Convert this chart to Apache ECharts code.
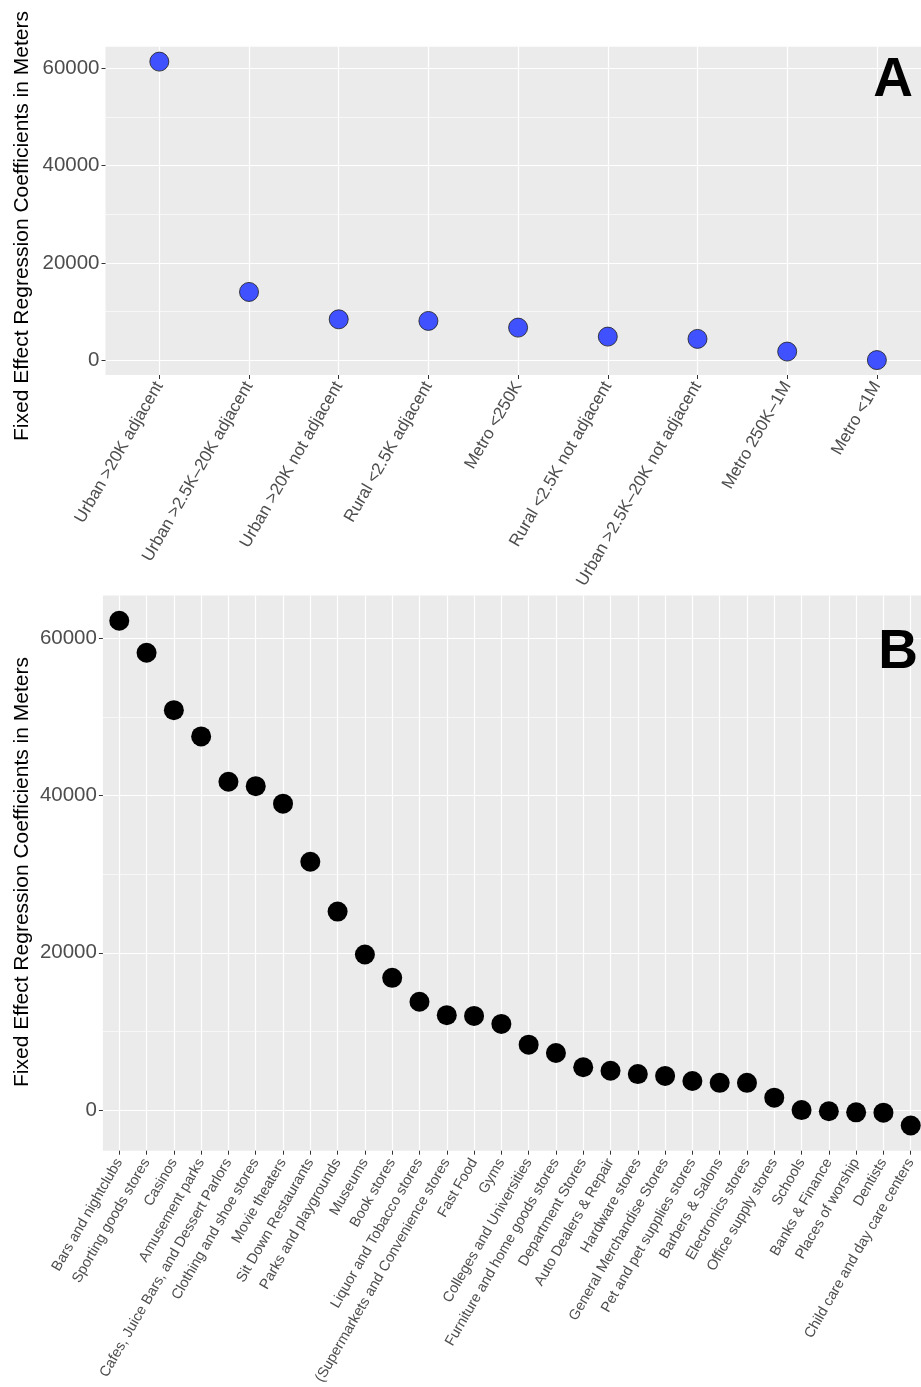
<!DOCTYPE html>
<html>
<head>
<meta charset="utf-8">
<script src="https://cdn.jsdelivr.net/npm/echarts@6/dist/echarts.min.js"></script>
<style>
html,body{margin:0;padding:0;background:#fff;}
#chart{width:921px;height:1387px;}
</style>
</head>
<body>
<div id="chart"></div>
<script>
// ---- Panel A data ----
const catsA = ["Urban >20K adjacent","Urban >2.5K\u201320K adjacent","Urban >20K not adjacent","Rural <2.5K adjacent","Metro <250K","Rural <2.5K not adjacent","Urban >2.5K\u201320K not adjacent","Metro 250K\u20131M","Metro <1M"];
const valsA = [61420, 14020, 8390, 8060, 6680, 4830, 4360, 1750, 0];

// ---- Panel B data ----
const catsB = ["Bars and nightclubs","Sporting goods stores","Casinos","Amusement parks","Cafes, Juice Bars, and Dessert Parlors","Clothing and shoe stores","Movie theaters","Sit Down Restaurants","Parks and playgrounds","Museums","Book stores","Liquor and Tobacco stores","(Supermarkets and Convenience stores","Fast Food","Gyms","Colleges and Universities","Furniture and home goods stores","Department Stores","Auto Dealers & Repair","Hardware stores","General Merchandise Stores","Pet and pet supplies stores","Barbers & Salons","Electronics stores","Office supply stores","Schools","Banks & Finance","Places of worship","Dentists","Child care and day care centers"];
const valsB = [62210, 58140, 50840, 47510, 41740, 41180, 38960, 31570, 25240, 19780, 16820, 13770, 12070, 11980, 10960, 8320, 7260, 5450, 5000, 4580, 4350, 3700, 3470, 3470, 1580, 0, -140, -280, -320, -1950];

// ---- tick labels ----
const yMajorTicks = [0, 20000, 40000, 60000];
const yMinorTicks = [10000, 30000, 50000];
const yTitle = "Fixed Effect Regression Coefficients in Meters";
const panelLabels = ["A", "B"];

function expanded(vals) {
  const mn = Math.min(...vals), mx = Math.max(...vals);
  const r = mx - mn;
  return [mn - 0.05 * r, mx + 0.05 * r];
}
const extA = expanded(valsA), extB = expanded(valsB);
const FONT = "'Liberation Sans', Arial, Helvetica, sans-serif";
const BG = '#EBEBEB';

function xAxis(gi, cats, fontSize, margin) {
  const idx = cats.map((c, i) => i);
  return {
    type: 'value', gridIndex: gi, min: -0.6, max: cats.length - 1 + 0.6, position: 'bottom',
    axisLine: {show: false, onZero: false},
    axisTick: {show: true, length: 4, lineStyle: {color: '#333', width: 1}, customValues: idx},
    axisLabel: {show: true, customValues: idx, rotate: 60, margin: margin, fontSize: fontSize, fontFamily: FONT, color: '#4D4D4D',
      formatter: v => cats[Math.round(v)] },
    splitLine: {show: true, lineStyle: {color: '#fff', width: 1.2}},
    minorSplitLine: {show: false}
  };
}
function yAxisMajor(gi, ext) {
  return {
    type: 'value', gridIndex: gi, min: ext[0], max: ext[1], position: 'left',
    axisLine: {show: false, onZero: false},
    axisTick: {show: true, length: 4, lineStyle: {color: '#333', width: 1}, customValues: yMajorTicks},
    axisLabel: {show: true, customValues: yMajorTicks, margin: 6, fontSize: 20.5, fontFamily: FONT, color: '#4D4D4D',
      formatter: v => String(v)},
    splitLine: {show: true, lineStyle: {color: '#fff', width: 1.2}}
  };
}
function yAxisMinor(gi, ext) {
  return {
    type: 'value', gridIndex: gi, min: ext[0], max: ext[1], position: 'left',
    axisLine: {show: false, onZero: false},
    axisTick: {show: false, customValues: yMinorTicks},
    axisLabel: {show: false, customValues: yMinorTicks},
    splitLine: {show: true, lineStyle: {color: '#fff', width: 0.6}}
  };
}

const chart = echarts.init(document.getElementById('chart'), null, {renderer: 'canvas'});
chart.setOption({
  backgroundColor: '#fff',
  animation: false,
  grid: [
    {left: 105.5, right: -9.7, top: 46.7, bottom: 1387 - 375, show: true, backgroundColor: BG, borderWidth: 0, outerBoundsMode: 'none', containLabel: false},
    {left: 102.9, right: -6.1, top: 595.5, bottom: 1387 - 1150.7, show: true, backgroundColor: BG, borderWidth: 0, outerBoundsMode: 'none', containLabel: false}
  ],
  xAxis: [xAxis(0, catsA, 17, 8), xAxis(1, catsB, 14.5, 9)],
  yAxis: [yAxisMajor(0, extA), yAxisMinor(0, extA), yAxisMajor(1, extB), yAxisMinor(1, extB)],
  series: [
    {type: 'scatter', xAxisIndex: 0, yAxisIndex: 0, symbol: 'circle', symbolSize: 19,
     itemStyle: {color: '#4052FF', borderColor: '#1a1a1a', borderWidth: 0.8, opacity: 1},
     data: valsA.map((v, i) => [i, v])},
    {type: 'scatter', xAxisIndex: 1, yAxisIndex: 2, symbol: 'circle', symbolSize: 20,
     itemStyle: {color: '#000', opacity: 1},
     data: valsB.map((v, i) => [i, v])}
  ],
  graphic: [
    {type: 'text', x: 22, y: 226, rotation: Math.PI / 2,
     style: {text: yTitle, fontSize: 21, fontFamily: FONT, fill: '#000', align: 'center', verticalAlign: 'middle'}},
    {type: 'text', x: 22, y: 872, rotation: Math.PI / 2,
     style: {text: yTitle, fontSize: 21, fontFamily: FONT, fill: '#000', align: 'center', verticalAlign: 'middle'}},
    {type: 'text', x: 913, y: 81, z: 100,
     style: {text: panelLabels[0], fontSize: 55, fontWeight: 'bold', fontFamily: FONT, fill: '#000', align: 'right', verticalAlign: 'middle'}},
    {type: 'text', x: 918, y: 653, z: 100,
     style: {text: panelLabels[1], fontSize: 55, fontWeight: 'bold', fontFamily: FONT, fill: '#000', align: 'right', verticalAlign: 'middle'}}
  ]
});
</script>
</body>
</html>
